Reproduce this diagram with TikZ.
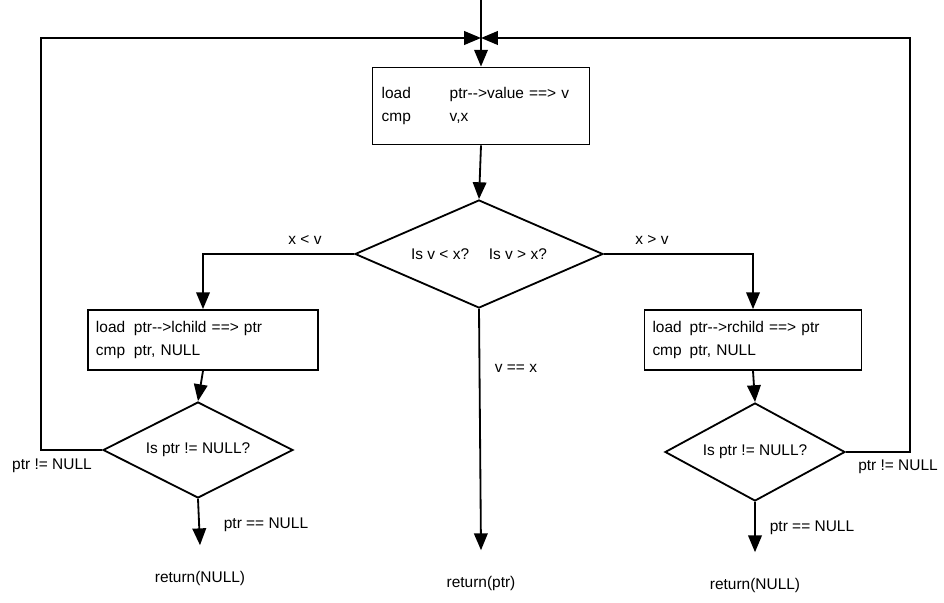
\documentclass[tikz,border=0pt]{standalone}
\usepackage{fontspec}
\setmainfont{Liberation Sans}
\usetikzlibrary{arrows.meta,shapes.geometric}

\begin{document}
\begin{tikzpicture}[x=0.25mm, y=-0.25mm, line width=1.3pt,
    >={Triangle[length=4.2mm,width=3.4mm]},
    font=\fontsize{11}{16}\selectfont,
    procbox/.style={draw, align=left, inner xsep=#1},
    testbox/.style={draw, diamond, inner sep=0pt, aspect=#1},
    lbl/.style={inner sep=1pt}]
    \useasboundingbox (0,0) rectangle (944,603);

    % 指令行: \instr{宽度}{操作}{参数}
    \newcommand{\instr}[3]{\makebox[#1][l]{#2}#3}

    % 入口
    \coordinate (entry) at (481,0);
    \coordinate (junction) at (481,38);

    % 取值并比较
    \node[procbox=2.3mm, text width=49.65mm, minimum height=19.25mm] (valbox) at (481,106)
      {\instr{17mm}{load}{ptr-{}->value ==> v}\\ \instr{17mm}{cmp}{v,x}};
    \node[testbox=2.4, minimum width=62mm, minimum height=27mm] (mtest) at (479,254)
      {Is v < x?\quad\ Is v > x?};

    % 左右子树
    \node[procbox=2mm, text width=53.5mm, minimum height=15mm] (lbox) at (203,340)
      {\instr{9.5mm}{load}{ptr-{}->lchild ==> ptr}\\ \instr{9.5mm}{cmp}{ptr, NULL}};
    \node[procbox=2mm, text width=50.25mm, minimum height=15mm] (rbox) at (753,340)
      {\instr{9.3mm}{load}{ptr-{}->rchild ==> ptr}\\ \instr{9.3mm}{cmp}{ptr, NULL}};
    \node[testbox=2.2, minimum width=47.5mm, minimum height=24mm] (ltest) at (198,450) {Is ptr != NULL?};
    \node[testbox=2.2, minimum width=45mm, minimum height=24.5mm] (rtest) at (755,452) {Is ptr != NULL?};

    % 返回
    \node (lret) at (200,578) {return(NULL)};
    \node (mret) at (481,583) {return(ptr)};
    \node (rret) at (755,585) {return(NULL)};
    \coordinate (lcorner) at (41,38);
    \coordinate (rcorner) at (910,38);

    % 连线
    \draw[->] (entry) -- (valbox.north);
    \draw[->] (valbox.south) -- (mtest.north);
    \draw[->] (mtest.west) -| (lbox.north);
    \draw[->] (mtest.east) -| (rbox.north);
    \draw[->] (lbox.south) -- (ltest.north);
    \draw[->] (rbox.south) -- (rtest.north);
    \draw[->] (ltest.south) -- ([yshift=5mm]lret.north);
    \draw[->] (mtest.south) -- ([yshift=5mm]mret.north);
    \draw[->] (rtest.south) -- ([yshift=5mm]rret.north);
    \draw[->] (ltest.west) -| (lcorner) -- (junction);
    \draw[->] (rtest.east) -| (rcorner) -- (junction);

    % 分支标注
    \node[lbl] (ltv) at (305,240) {x < v};
    \node[lbl] (gtv) at (652,240) {x > v};
    \node[lbl] (eqv) at (516,368) {v == x};
    \node[lbl] (lnull) at (266,525) {ptr == NULL};
    \node[lbl] (rnull) at (812,528) {ptr == NULL};
    \node[lbl] (lnotnull) at (52,466) {ptr != NULL};
    \node[lbl] (rnotnull) at (898,467) {ptr != NULL};
\end{tikzpicture}
\end{document}
